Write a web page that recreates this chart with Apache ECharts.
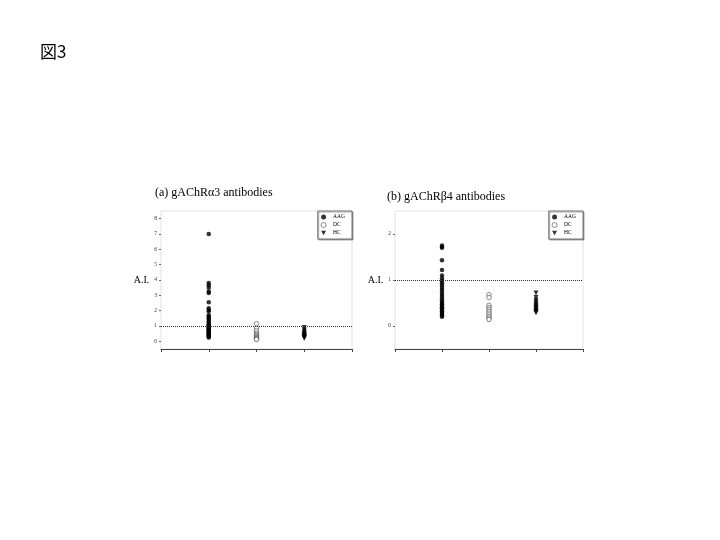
<!DOCTYPE html>
<html>
<head>
<meta charset="utf-8">
<script src="https://cdn.jsdelivr.net/npm/echarts@6/dist/echarts.min.js"></script>
<style>html,body{margin:0;padding:0;background:#fff}#c{width:720px;height:540px}</style>
</head>
<body>
<div id="c"></div>
<script>
// ---- data ----
var groups = ['AAG', 'DC', 'HC'];
var groupX = [1, 2, 3];
var yTicksA = [0, 1, 2, 3, 4, 5, 6, 7, 8];
var yTicksB = [0, 1, 2];
var cutoff = 1;

var a_AAG = [7.0, 3.8, 3.65, 3.5, 3.25, 3.15, 2.55, 2.15, 2.05, 1.95, 1.7, 1.6, 1.5, 1.4, 1.3, 1.2, 1.1, 1.05, 1.0, 0.95, 0.9, 0.85, 0.8, 0.75, 0.7, 0.65, 0.6, 0.55, 0.5, 0.45, 0.4, 0.35, 0.3, 0.25];
var a_DC = [1.15, 0.85, 0.7, 0.55, 0.45, 0.38, 0.3, 0.25, 0.2, 0.15, 0.12];
var a_HC = [0.9, 0.75, 0.65, 0.55, 0.5, 0.45, 0.4, 0.35, 0.3, 0.28, 0.25, 0.2];

var b_AAG = [1.75, 1.72, 1.7, 1.43, 1.22, 1.1, 1.03, 0.98, 0.93, 0.88, 0.83, 0.78, 0.73, 0.68, 0.63, 0.58, 0.53, 0.5, 0.47, 0.44, 0.41, 0.38, 0.35, 0.32, 0.29, 0.26, 0.23, 0.2];
var b_DC = [0.68, 0.62, 0.45, 0.4, 0.36, 0.32, 0.28, 0.24, 0.2, 0.17, 0.14];
var b_HC = [0.72, 0.62, 0.56, 0.52, 0.48, 0.45, 0.42, 0.4, 0.37, 0.35, 0.33, 0.31, 0.29];

var titleA = '(a) gAChR\u03b13 antibodies';
var titleB = '(b) gAChR\u03b24 antibodies';
var figLabel = '\u56f33';
var yName = 'A.I.';

// ---- chart ----
var serif = '"Liberation Serif", "DejaVu Serif", serif';
function pts(x, arr) { return arr.map(function (v) { return [x, v]; }); }

var triPath = 'path://M0,0 L10,0 L5,9 Z';
var openStyle = { color: '#fff', borderColor: '#333', borderWidth: 0.7 };
var symbols = {
  AAG: { symbol: 'circle', symbolRotate: 0, size: 4.5, itemStyle: { color: '#000' } },
  DC: { symbol: 'circle', symbolRotate: 0, size: 4.5, itemStyle: openStyle },
  HC: { symbol: 'triangle', symbolRotate: 180, size: 5, itemStyle: { color: '#000' } }
};

function xAx(gi) {
  return {
    gridIndex: gi, type: 'value', min: 0, max: 4, interval: 1,
    axisLine: { show: true, onZero: false, lineStyle: { color: '#444', width: 1 } },
    axisTick: { show: true, length: 3, lineStyle: { color: '#444' } },
    axisLabel: { show: false }, splitLine: { show: false }
  };
}
function yAx(gi, max, ticks) {
  return {
    gridIndex: gi, type: 'value', min: -0.5, max: max,
    name: yName, nameLocation: 'middle', nameRotate: 0, nameGap: 10,
    nameTextStyle: { fontFamily: serif, fontSize: 10, color: '#000', align: 'right' },
    axisLine: { show: false },
    axisTick: { show: true, length: 2, customValues: ticks, lineStyle: { color: '#666' } },
    axisLabel: {
      customValues: ticks,
      fontFamily: serif, fontSize: 5.5, color: '#333', margin: 4
    },
    splitLine: { show: false }
  };
}

var ySets = [[a_AAG, a_DC, a_HC], [b_AAG, b_DC, b_HC]];
var series = [];
[0, 1].forEach(function (gi) {
  groups.forEach(function (g, k) {
    var s = {
      name: g, type: 'scatter', xAxisIndex: gi, yAxisIndex: gi,
      symbol: symbols[g].symbol, symbolRotate: symbols[g].symbolRotate,
      symbolSize: symbols[g].size,
      itemStyle: symbols[g].itemStyle,
      data: pts(groupX[k], ySets[gi][k]),
      animation: false, silent: true
    };
    if (k === 0) {
      s.markLine = {
        silent: true, symbol: 'none', animation: false,
        label: { show: false },
        lineStyle: { type: 'dotted', color: '#333', width: 1 },
        data: [{ yAxis: cutoff }]
      };
    }
    series.push(s);
  });
});

function legendAt(right) {
  return {
    orient: 'vertical', right: right, top: 211,
    data: [
      { name: 'AAG', icon: 'circle' },
      { name: 'DC', icon: 'circle', itemStyle: openStyle },
      { name: 'HC', icon: triPath }
    ],
    itemWidth: 5, itemHeight: 5, itemGap: 2,
    padding: [3, 7, 3, 3],
    borderColor: '#777', borderWidth: 1,
    shadowColor: 'rgba(0,0,0,0.35)', shadowOffsetX: 1, shadowOffsetY: 1, shadowBlur: 0,
    backgroundColor: '#fff',
    textStyle: { fontFamily: serif, fontSize: 5.5, color: '#000', padding: [0, 0, 0, 2] },
    selectedMode: false
  };
}

var chart = echarts.init(document.getElementById('c'), null, { renderer: 'canvas' });
chart.setOption({
  backgroundColor: '#fff',
  animation: false,
  title: [
    { text: figLabel, left: 35, top: 38, textStyle: { fontFamily: '"Noto Sans CJK JP", sans-serif', fontSize: 17, fontWeight: 'normal', color: '#000' } },
    { text: titleA, left: 150, top: 182, textStyle: { fontFamily: serif, fontSize: 12, fontWeight: 'normal', color: '#000' } },
    { text: titleB, left: 382, top: 186, textStyle: { fontFamily: serif, fontSize: 12, fontWeight: 'normal', color: '#000' } }
  ],
  legend: [legendAt(368), legendAt(137)],
  grid: [
    { left: 161, top: 211, width: 191, height: 138, show: true, borderColor: '#e2e2e2', borderWidth: 1, backgroundColor: 'transparent' },
    { left: 395, top: 211, width: 188, height: 138, show: true, borderColor: '#e2e2e2', borderWidth: 1, backgroundColor: 'transparent' }
  ],
  xAxis: [xAx(0), xAx(1)],
  yAxis: [yAx(0, 8.5, yTicksA), yAx(1, 2.5, yTicksB)],
  series: series
});
</script>
</body>
</html>
